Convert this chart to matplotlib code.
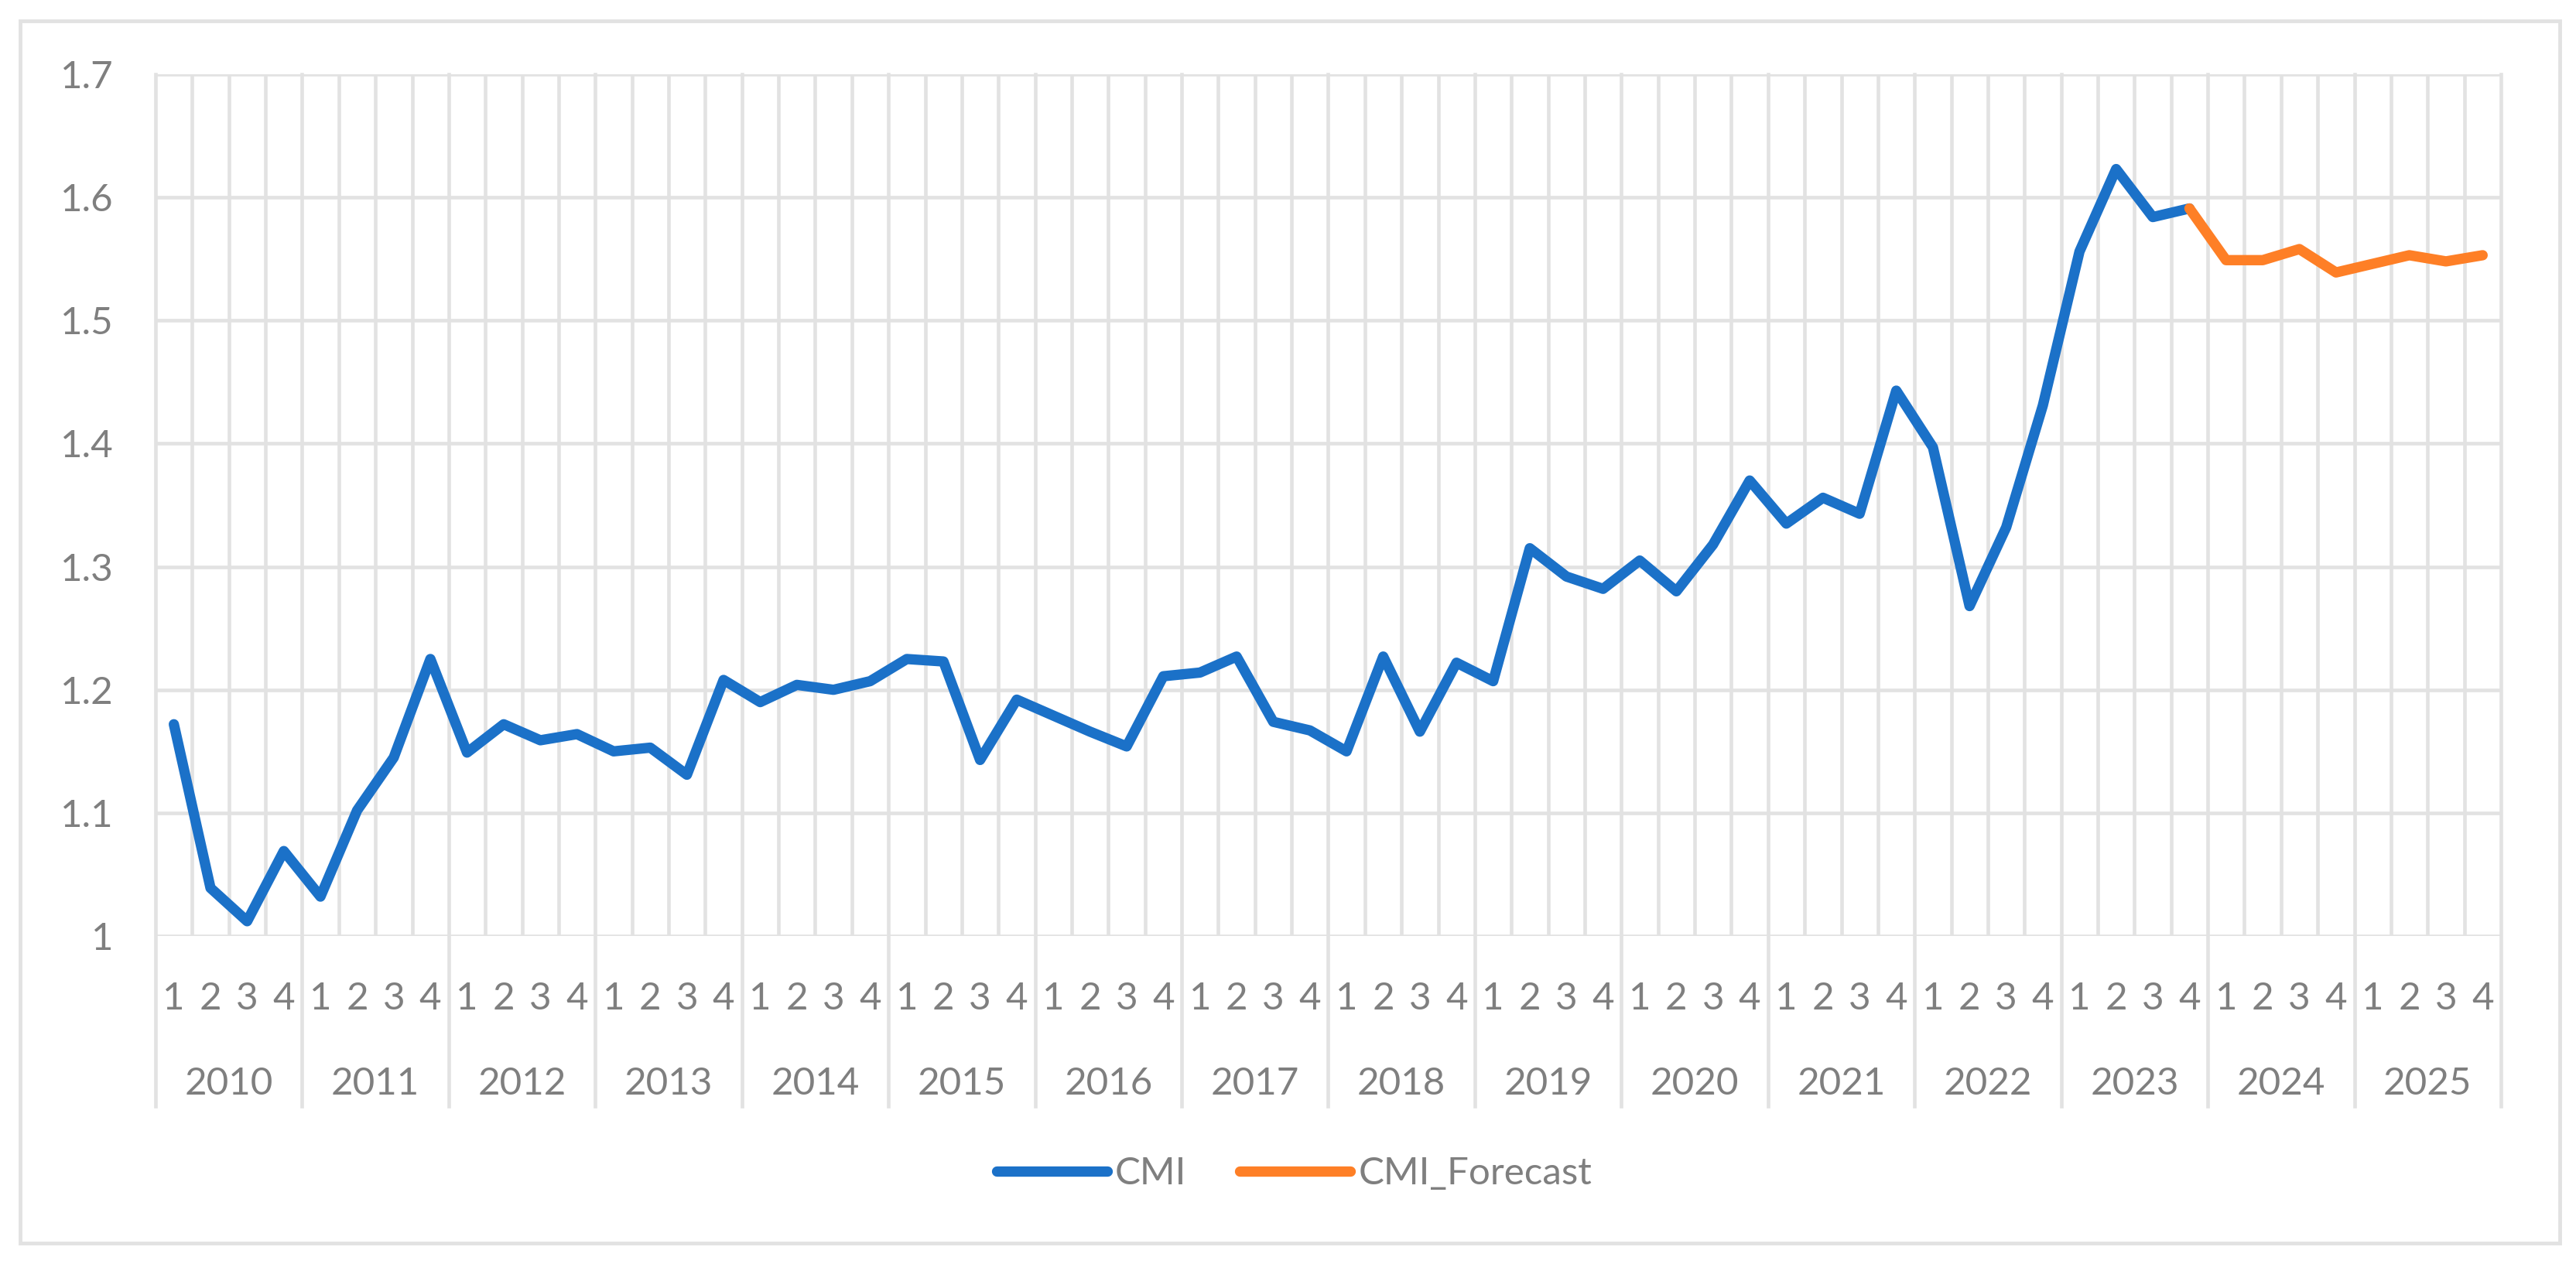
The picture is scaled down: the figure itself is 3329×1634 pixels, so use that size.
"""CMI quarterly index 2010-2025 with forecast tail, Excel-style line chart.

Writes out.png (3330x1634).
"""

from __future__ import annotations

import matplotlib

matplotlib.use("Agg")
import matplotlib.pyplot as plt  # noqa: E402
from matplotlib.patches import Rectangle  # noqa: E402
from matplotlib.transforms import blended_transform_factory  # noqa: E402

# -- data ----------------------------------------------------------------------

YEARS = [str(y) for y in range(2010, 2026)]
QUARTERS = ["1", "2", "3", "4"]

# observed CMI, 2010Q1 .. 2023Q4
CMI = [
    1.172, 1.039, 1.012, 1.069,
    1.032, 1.102, 1.145, 1.225,
    1.149, 1.172, 1.159, 1.164,
    1.150, 1.153, 1.131, 1.208,
    1.190, 1.204, 1.200, 1.207,
    1.225, 1.223, 1.143, 1.192,
    1.179, 1.166, 1.154, 1.211,
    1.214, 1.227, 1.174, 1.167,
    1.150, 1.227, 1.166, 1.222,
    1.207, 1.315, 1.292, 1.282,
    1.305, 1.280, 1.318, 1.370,
    1.335, 1.356, 1.343, 1.443,
    1.397, 1.268, 1.332, 1.431,
    1.556, 1.623, 1.584, 1.591,
]
# forecast, 2023Q4 .. 2025Q4 (starts on the last observed point)
CMI_FORECAST = [1.591, 1.549, 1.549, 1.558, 1.539, 1.546, 1.553, 1.548, 1.553]
FORECAST_START = len(CMI) - 1

Y_TICKS = [1.0, 1.1, 1.2, 1.3, 1.4, 1.5, 1.6, 1.7]
Y_TICK_LABELS = ["1", "1.1", "1.2", "1.3", "1.4", "1.5", "1.6", "1.7"]

# -- style ---------------------------------------------------------------------

BLUE = "#1b71c8"
ORANGE = "#fe7f26"
GRID = "#e2e2e2"
TEXT = "#7f7f7f"
FS = 35.5

plt.rcParams["font.family"] = ["Lato", "DejaVu Sans"]


def plot_cmi(out: str = "out.png") -> str:
    fig = plt.figure(figsize=(33.3, 16.34), dpi=100)
    ax = fig.add_axes([0.06036, 0.25949, 0.91021, 0.68176])

    n = len(YEARS) * len(QUARTERS)
    ax.set_xlim(-0.5, n - 0.5)
    ax.set_ylim(Y_TICKS[0], Y_TICKS[-1])
    for s in ax.spines.values():
        s.set_visible(False)

    # horizontal gridlines
    for y in Y_TICKS:
        ax.axhline(y, color=GRID, lw=3.3, zorder=0)
    # vertical gridlines at each category boundary; year bounds run into labels
    for k in range(n + 1):
        if k % 4 == 0:
            ax.axvline(k - 0.5, ymin=-0.1975, ymax=1, color=GRID, lw=3.3,
                       zorder=0, clip_on=False)
        else:
            ax.axvline(k - 0.5, color=GRID, lw=3.3, zorder=0)

    ax.set_yticks(Y_TICKS)
    ax.set_yticklabels(Y_TICK_LABELS, fontsize=FS, color=TEXT)
    ax.tick_params(axis="y", length=0, pad=39)
    ax.set_xticks([])

    # two-level category labels
    tr = blended_transform_factory(ax.transData, ax.transAxes)
    for yi, year in enumerate(YEARS):
        for qi, q in enumerate(QUARTERS):
            ax.text(yi * 4 + qi, -0.0853, q, transform=tr, ha="center",
                    va="baseline", fontsize=FS, color=TEXT)
        ax.text(yi * 4 + 1.5, -0.184, year, transform=tr, ha="center",
                va="baseline", fontsize=FS, color=TEXT)

    xs = list(range(len(CMI)))
    xf = list(range(FORECAST_START, FORECAST_START + len(CMI_FORECAST)))
    ax.plot(xs, CMI, color=BLUE, lw=9.6, solid_joinstyle="round",
            solid_capstyle="round", label="CMI", zorder=3)
    ax.plot(xf, CMI_FORECAST, color=ORANGE, lw=9.6, solid_joinstyle="round",
            solid_capstyle="round", label="CMI_Forecast", zorder=4)

    fig.legend(loc="center", bbox_to_anchor=(0.5023, 0.0716), ncol=2,
               frameon=False, fontsize=FS, labelcolor=TEXT, handlelength=2.9,
               handletextpad=0.2, columnspacing=1.4)

    # outer chart border
    fig.patches.append(Rectangle((0.0078, 0.0165), 0.9856, 0.967,
                                 transform=fig.transFigure, fill=False,
                                 edgecolor=GRID, lw=3.5))

    fig.savefig(out, dpi=100)
    plt.close(fig)
    return out


if __name__ == "__main__":
    print("wrote", plot_cmi())
